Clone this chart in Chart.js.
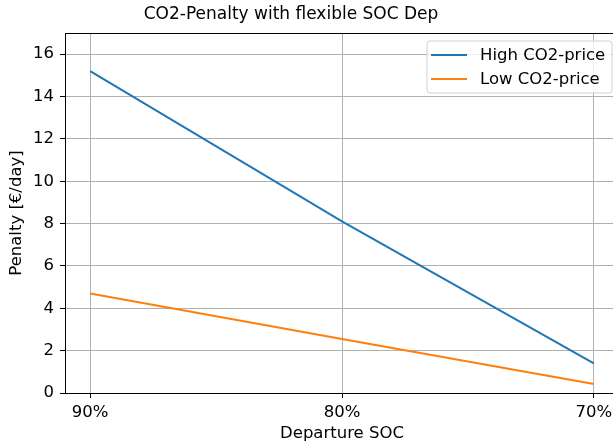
<!DOCTYPE html>
<html>
<head>
<meta charset="utf-8">
<script src="https://cdn.jsdelivr.net/npm/chart.js@4.4.1/dist/chart.umd.min.js"></script>
<style>
  body { margin: 0; background: #fff; }
  #wrap { width: 613px; height: 445px; overflow: hidden; }
</style>
</head>
<body>
<div id="wrap"><canvas id="penaltyChart" width="620" height="445"></canvas></div>
<script>
// Data
const categories = ['90%', '80%', '70%'];
const highCO2 = [15.2, 8.1, 1.4];
const lowCO2 = [4.7, 2.55, 0.42];
const yTicks = [0, 2, 4, 6, 8, 10, 12, 14, 16];

const FONT = "'DejaVu Sans', sans-serif";
Chart.defaults.font.family = FONT;
Chart.defaults.color = '#000';

const toPoints = arr => arr.map((v, i) => ({ x: i, y: v }));

// title, top/right spines and legend box drawn like matplotlib
const decorPlugin = {
    id: 'decor',
    afterDraw(chart) {
        const ctx = chart.ctx;
        const a = chart.chartArea;
        ctx.save();
        ctx.strokeStyle = '#000';
        ctx.lineWidth = 1;
        ctx.beginPath();
        ctx.moveTo(a.left, a.top + 0.5);
        ctx.lineTo(a.right, a.top + 0.5);
        ctx.lineTo(a.right, a.bottom);
        ctx.stroke();

        ctx.fillStyle = '#000';
        ctx.font = '17px ' + FONT;
        ctx.textAlign = 'center';
        ctx.textBaseline = 'middle';
        ctx.fillText('CO2-Penalty with flexible SOC Dep', 291, 15);

        // legend
        const bx = 427, by = 41, bw = 185, bh = 52, r = 3;
        ctx.beginPath();
        ctx.moveTo(bx + r, by);
        ctx.arcTo(bx + bw, by, bx + bw, by + bh, r);
        ctx.arcTo(bx + bw, by + bh, bx, by + bh, r);
        ctx.arcTo(bx, by + bh, bx, by, r);
        ctx.arcTo(bx, by, bx + bw, by, r);
        ctx.closePath();
        ctx.fillStyle = 'rgba(255,255,255,0.8)';
        ctx.fill();
        ctx.strokeStyle = '#d0d0d0';
        ctx.stroke();

        ctx.font = '16.5px ' + FONT;
        ctx.textAlign = 'left';
        chart.data.datasets.forEach((ds, i) => {
            const y = 55 + i * 24;
            ctx.strokeStyle = ds.borderColor;
            ctx.lineWidth = 2;
            ctx.beginPath();
            ctx.moveTo(431, y);
            ctx.lineTo(467, y);
            ctx.stroke();
            ctx.fillStyle = '#000';
            ctx.fillText(ds.label, 480, y + 1);
        });
        ctx.restore();
    }
};

const ctx = document.getElementById('penaltyChart').getContext('2d');
const penaltyChart = new Chart(ctx, {
    type: 'line',
    data: {
        datasets: [{
            label: 'High CO2-price',
            data: toPoints(highCO2),
            borderColor: '#1f77b4',
            borderWidth: 2,
            pointRadius: 0,
            tension: 0
        }, {
            label: 'Low CO2-price',
            data: toPoints(lowCO2),
            borderColor: '#ff7f0e',
            borderWidth: 2,
            pointRadius: 0,
            tension: 0
        }]
    },
    options: {
        responsive: false,
        animation: false,
        layout: { padding: { left: 0, top: 33, right: 1, bottom: 0 } },
        plugins: {
            legend: { display: false },
            title: { display: false },
            tooltip: { enabled: false }
        },
        scales: {
            x: {
                type: 'linear',
                min: -0.1,
                max: 2.1,
                afterBuildTicks: scale => { scale.ticks = categories.map((c, i) => ({ value: i })); },
                afterFit: scale => { scale.height = 52; },
                ticks: {
                    callback: v => categories[v],
                    font: { size: 16.5 },
                    padding: 5,
                    maxRotation: 0
                },
                grid: { color: '#b0b0b0', lineWidth: 1, tickLength: 5, tickColor: '#000' },
                border: { color: '#000', width: 1 },
                title: {
                    display: true,
                    text: 'Departure SOC',
                    font: { size: 16.5 },
                    padding: { top: 0, bottom: 1 }
                }
            },
            y: {
                min: 0,
                max: 17,
                afterBuildTicks: scale => { scale.ticks = yTicks.map(v => ({ value: v })); },
                afterFit: scale => { scale.width = 65; },
                ticks: { font: { size: 16.5 }, padding: 6 },
                grid: { color: '#b0b0b0', lineWidth: 1, tickLength: 5, tickColor: '#000' },
                border: { color: '#000', width: 1 },
                title: {
                    display: true,
                    text: 'Penalty [€/day]',
                    font: { size: 16.5 },
                    padding: { top: 7, bottom: 0 }
                }
            }
        }
    },
    plugins: [decorPlugin]
});
</script>
</body>
</html>
